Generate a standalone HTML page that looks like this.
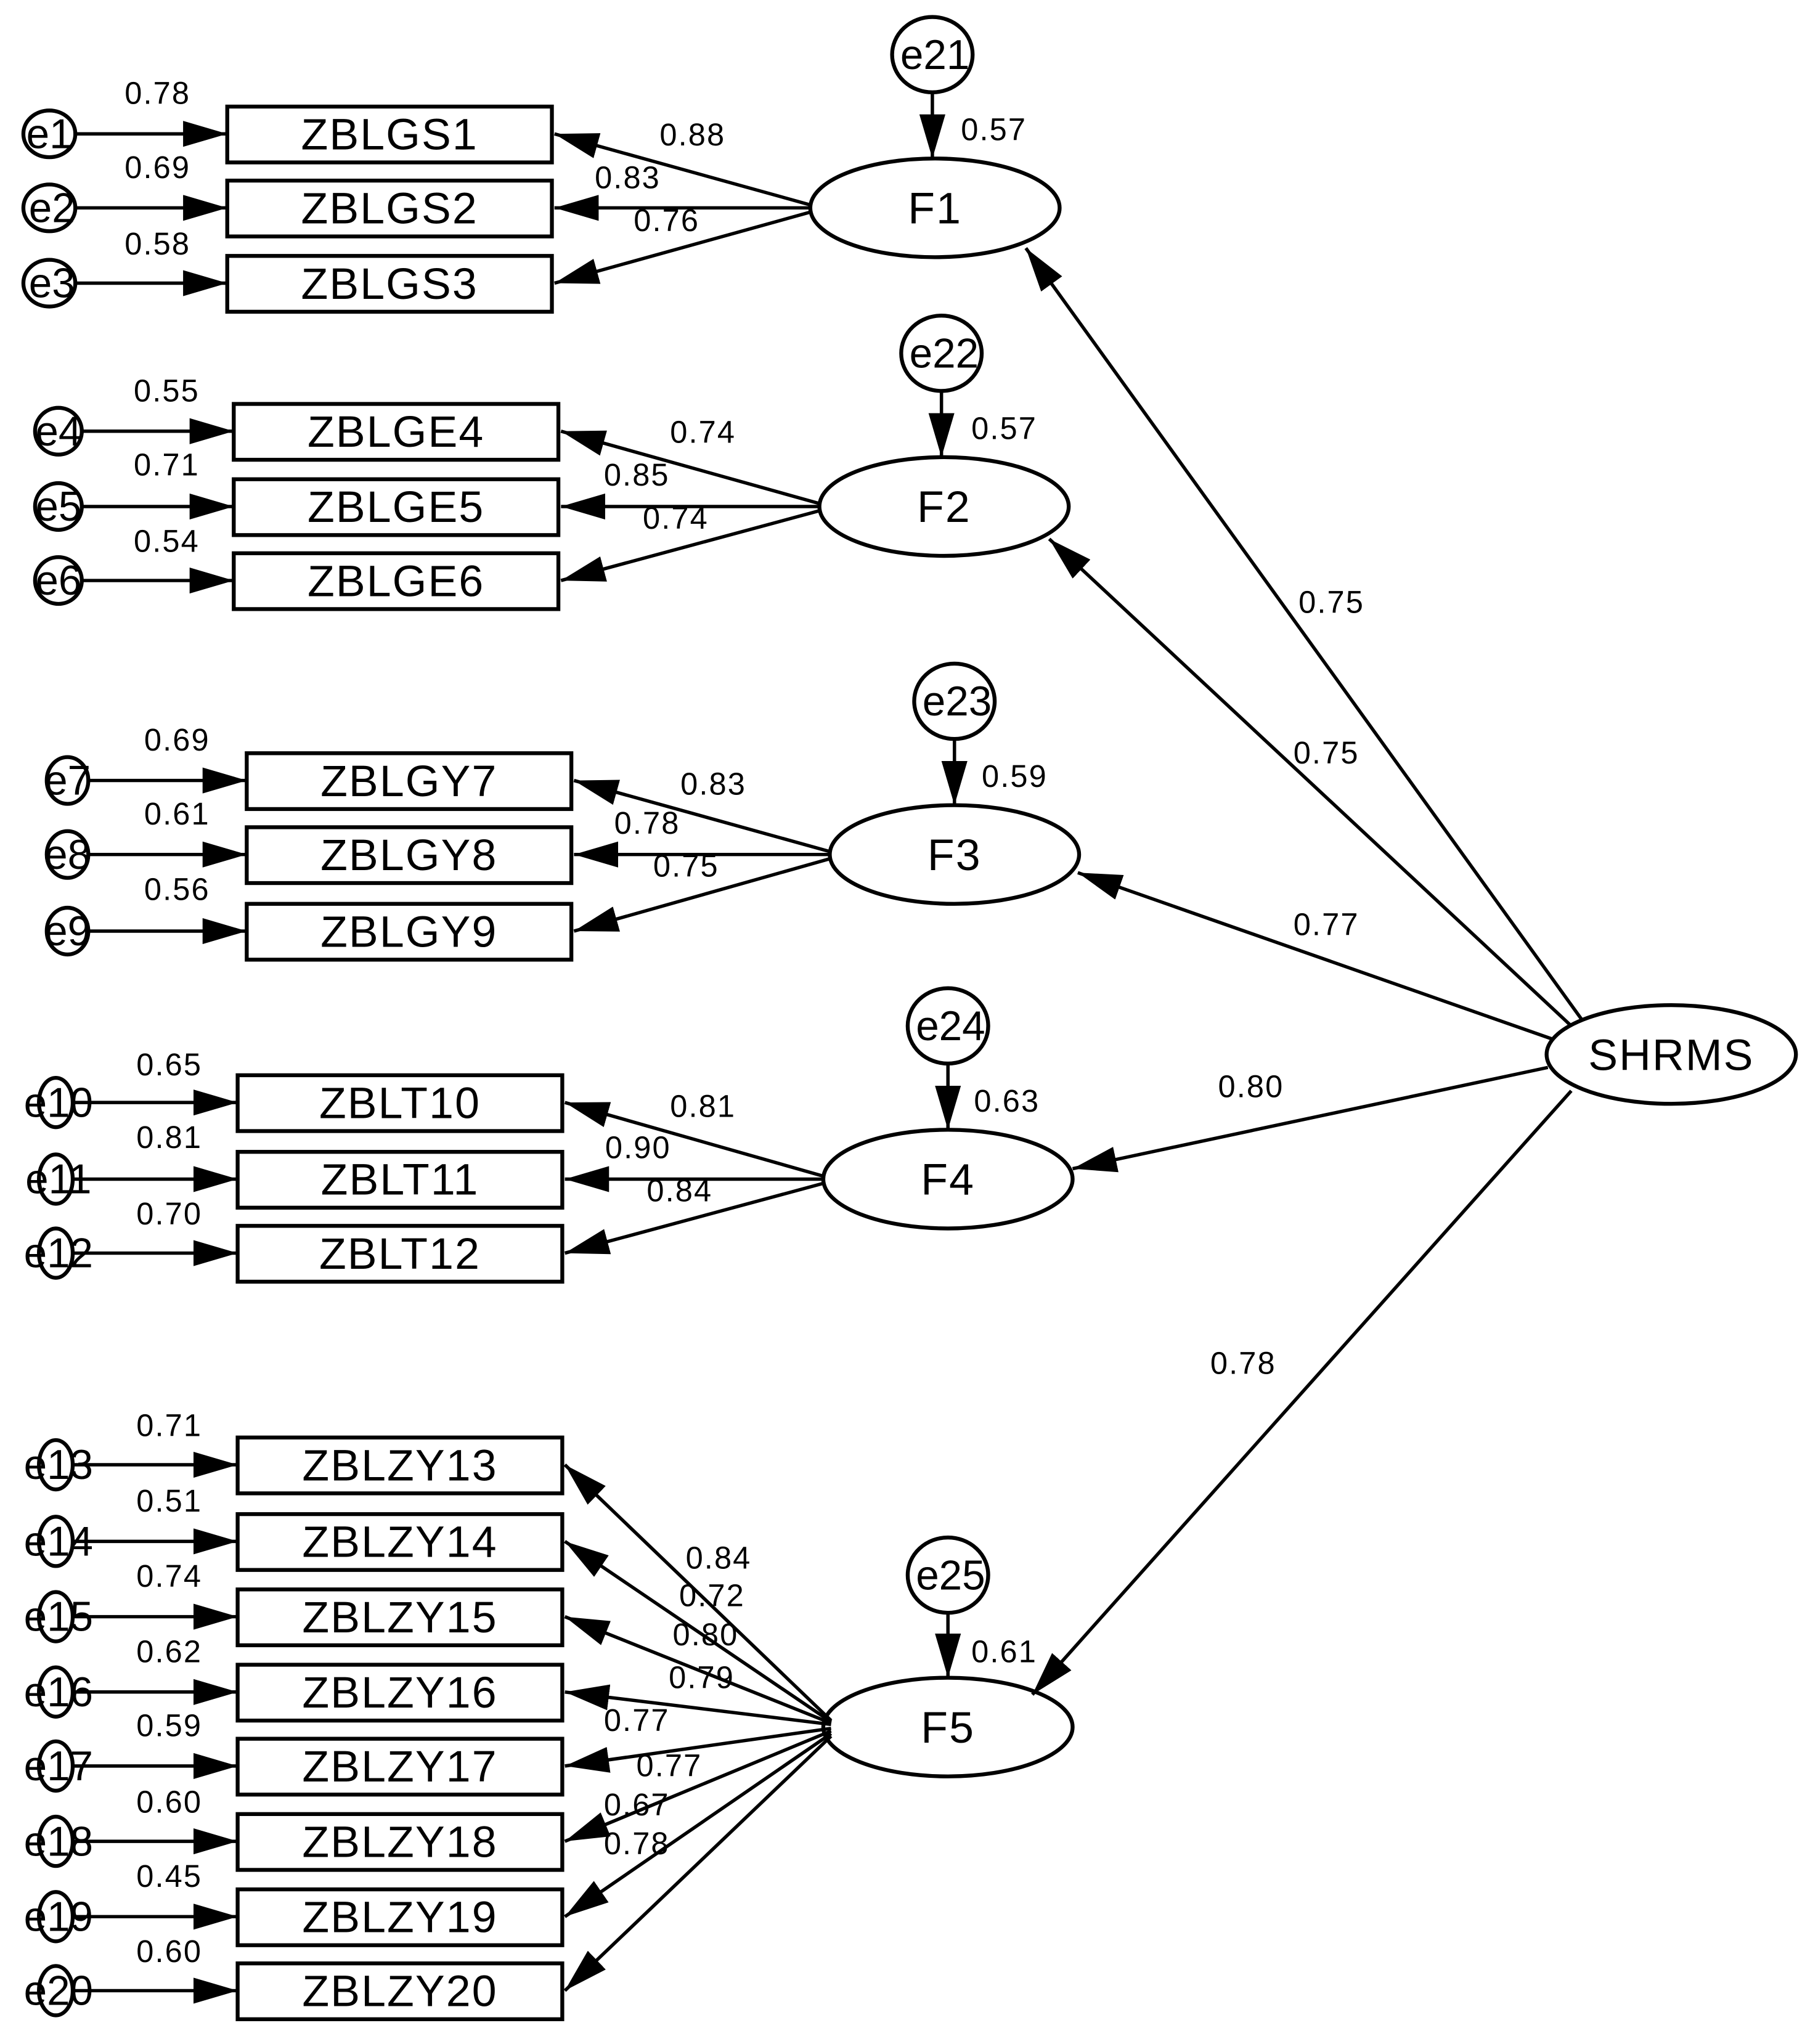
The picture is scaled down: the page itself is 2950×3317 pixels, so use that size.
<!DOCTYPE html>
<html><head><meta charset="utf-8"><style>
html,body{margin:0;padding:0;background:#fff;}
svg{display:block;}
text{font-family:"Liberation Sans",sans-serif;fill:#000;}
.b{font-size:34px;text-anchor:middle;letter-spacing:1px;}
.n{font-size:24px;letter-spacing:1px;}
.e{font-size:32px;text-anchor:middle;}
</style></head><body>
<svg width="2950" height="3317" viewBox="0 0 1400 1574" xmlns="http://www.w3.org/2000/svg">
<defs>
<marker id="a" viewBox="0 0 34 20" refX="34" refY="10" markerWidth="34" markerHeight="20" markerUnits="userSpaceOnUse" orient="auto">
<path d="M0,0 L34,10 L0,20 z" fill="#000"/></marker>
</defs>
<g stroke="#000" stroke-width="3" fill="none">
<rect x="175" y="82" width="250" height="43"/><rect x="175" y="139" width="250" height="43"/><rect x="175" y="197" width="250" height="43"/>
<ellipse cx="720" cy="160" rx="96" ry="38"/><ellipse cx="718" cy="42" rx="31" ry="29"/>
<ellipse cx="38" cy="103" rx="20" ry="18"/><ellipse cx="38" cy="160" rx="20" ry="18"/><ellipse cx="38" cy="218" rx="20" ry="18"/>
<rect x="180" y="311" width="250" height="43"/><rect x="180" y="369" width="250" height="43"/><rect x="180" y="426" width="250" height="43"/>
<ellipse cx="727" cy="390" rx="96" ry="38"/><ellipse cx="725" cy="272" rx="31" ry="29"/>
<ellipse cx="45" cy="332" rx="18" ry="18"/><ellipse cx="45" cy="390" rx="18" ry="18"/><ellipse cx="45" cy="447" rx="18" ry="18"/>
<rect x="190" y="580" width="250" height="43"/><rect x="190" y="637" width="250" height="43"/><rect x="190" y="696" width="250" height="43"/>
<ellipse cx="735" cy="658" rx="96" ry="38"/><ellipse cx="735" cy="540" rx="31" ry="29"/>
<ellipse cx="52" cy="601" rx="16" ry="18"/><ellipse cx="52" cy="658" rx="16" ry="18"/><ellipse cx="52" cy="717" rx="16" ry="18"/>
<rect x="183" y="828" width="250" height="43"/><rect x="183" y="887" width="250" height="43"/><rect x="183" y="944" width="250" height="43"/>
<ellipse cx="730" cy="908" rx="96" ry="38"/><ellipse cx="730" cy="790" rx="31" ry="29"/>
<ellipse cx="43" cy="849" rx="13" ry="19"/><ellipse cx="43" cy="908" rx="13" ry="19"/><ellipse cx="43" cy="965" rx="13" ry="19"/>
<rect x="183" y="1107" width="250" height="43"/><rect x="183" y="1166" width="250" height="43"/><rect x="183" y="1224" width="250" height="43"/><rect x="183" y="1282" width="250" height="43"/>
<rect x="183" y="1339" width="250" height="43"/><rect x="183" y="1397" width="250" height="43"/><rect x="183" y="1455" width="250" height="43"/><rect x="183" y="1512" width="250" height="43"/>
<ellipse cx="730" cy="1330" rx="96" ry="38"/><ellipse cx="730" cy="1213" rx="31" ry="29"/>
<ellipse cx="43" cy="1128" rx="13" ry="19"/><ellipse cx="43" cy="1187" rx="13" ry="19"/><ellipse cx="43" cy="1245" rx="13" ry="19"/><ellipse cx="43" cy="1303" rx="13" ry="19"/>
<ellipse cx="43" cy="1360" rx="13" ry="19"/><ellipse cx="43" cy="1418" rx="13" ry="19"/><ellipse cx="43" cy="1476" rx="13" ry="19"/><ellipse cx="43" cy="1533" rx="13" ry="19"/>
<ellipse cx="1287" cy="812" rx="96" ry="38"/>
</g>
<g stroke="#000" stroke-width="2.6" marker-end="url(#a)">
<line x1="58" y1="103" x2="175" y2="103"/><line x1="58" y1="160" x2="175" y2="160"/><line x1="58" y1="218" x2="175" y2="218"/>
<line x1="625" y1="158" x2="427" y2="103"/><line x1="625" y1="160" x2="427" y2="160"/><line x1="625" y1="163" x2="427" y2="218"/>
<line x1="718" y1="71" x2="718" y2="122"/>
<line x1="63" y1="332" x2="180" y2="332"/><line x1="63" y1="390" x2="180" y2="390"/><line x1="63" y1="447" x2="180" y2="447"/>
<line x1="632" y1="388" x2="432" y2="332"/><line x1="632" y1="390" x2="432" y2="390"/><line x1="632" y1="393" x2="432" y2="447"/>
<line x1="725" y1="301" x2="725" y2="352"/>
<line x1="68" y1="601" x2="190" y2="601"/><line x1="68" y1="658" x2="190" y2="658"/><line x1="68" y1="717" x2="190" y2="717"/>
<line x1="640" y1="656" x2="442" y2="601"/><line x1="640" y1="658" x2="442" y2="658"/><line x1="640" y1="661" x2="442" y2="717"/>
<line x1="735" y1="569" x2="735" y2="620"/>
<line x1="56" y1="849" x2="183" y2="849"/><line x1="56" y1="908" x2="183" y2="908"/><line x1="56" y1="965" x2="183" y2="965"/>
<line x1="635" y1="906" x2="435" y2="849"/><line x1="635" y1="908" x2="435" y2="908"/><line x1="635" y1="911" x2="435" y2="965"/>
<line x1="730" y1="819" x2="730" y2="870"/>
<line x1="56" y1="1128" x2="183" y2="1128"/><line x1="56" y1="1187" x2="183" y2="1187"/><line x1="56" y1="1245" x2="183" y2="1245"/><line x1="56" y1="1303" x2="183" y2="1303"/>
<line x1="56" y1="1360" x2="183" y2="1360"/><line x1="56" y1="1418" x2="183" y2="1418"/><line x1="56" y1="1476" x2="183" y2="1476"/><line x1="56" y1="1533" x2="183" y2="1533"/>
<line x1="640" y1="1325" x2="435" y2="1128"/><line x1="640" y1="1326" x2="435" y2="1187"/><line x1="640" y1="1327" x2="435" y2="1245"/><line x1="640" y1="1328" x2="435" y2="1303"/>
<line x1="640" y1="1331" x2="435" y2="1360"/><line x1="640" y1="1333" x2="435" y2="1418"/><line x1="640" y1="1335" x2="435" y2="1476"/><line x1="640" y1="1337" x2="435" y2="1533"/>
<line x1="730" y1="1242" x2="730" y2="1292"/>
<line x1="1218" y1="785" x2="790" y2="191"/>
<line x1="1210" y1="790" x2="808" y2="415"/>
<line x1="1195" y1="800" x2="830" y2="672"/>
<line x1="1192" y1="822" x2="826" y2="900"/>
<line x1="1210" y1="840" x2="795" y2="1305"/>
</g>
<g class="b">
<text x="300" y="115">ZBLGS1</text><text x="300" y="172">ZBLGS2</text><text x="300" y="230">ZBLGS3</text>
<text x="305" y="344">ZBLGE4</text><text x="305" y="402">ZBLGE5</text><text x="305" y="459">ZBLGE6</text>
<text x="315" y="613">ZBLGY7</text><text x="315" y="670">ZBLGY8</text><text x="315" y="729">ZBLGY9</text>
<text x="308" y="861">ZBLT10</text><text x="308" y="920">ZBLT11</text><text x="308" y="977">ZBLT12</text>
<text x="308" y="1140">ZBLZY13</text><text x="308" y="1199">ZBLZY14</text><text x="308" y="1257">ZBLZY15</text><text x="308" y="1315">ZBLZY16</text>
<text x="308" y="1372">ZBLZY17</text><text x="308" y="1430">ZBLZY18</text><text x="308" y="1488">ZBLZY19</text><text x="308" y="1545">ZBLZY20</text>
<text x="720" y="172">F1</text><text x="727" y="402">F2</text><text x="735" y="670">F3</text><text x="730" y="920">F4</text><text x="730" y="1342">F5</text>
<text x="1287" y="824">SHRMS</text>
</g>
<g class="e">
<text x="720" y="53">e21</text><text x="727" y="283">e22</text><text x="737" y="551">e23</text><text x="732" y="801">e24</text><text x="732" y="1224">e25</text>
<text x="38" y="114">e1</text><text x="40" y="171">e2</text><text x="40" y="229">e3</text>
<text x="45" y="343">e4</text><text x="45" y="401">e5</text><text x="45" y="458">e6</text>
<text x="52" y="612">e7</text><text x="52" y="669">e8</text><text x="52" y="728">e9</text>
<text x="45" y="860">e10</text><text x="45" y="919">e11</text><text x="45" y="976">e12</text>
<text x="45" y="1139">e13</text><text x="45" y="1198">e14</text><text x="45" y="1256">e15</text><text x="45" y="1314">e16</text>
<text x="45" y="1371">e17</text><text x="45" y="1429">e18</text><text x="45" y="1487">e19</text><text x="45" y="1544">e20</text>
</g>
<g class="n">
<text x="96" y="80">0.78</text><text x="96" y="137">0.69</text><text x="96" y="196">0.58</text>
<text x="508" y="112">0.88</text><text x="458" y="145">0.83</text><text x="488" y="178">0.76</text><text x="740" y="108">0.57</text>
<text x="103" y="309">0.55</text><text x="103" y="366">0.71</text><text x="103" y="425">0.54</text>
<text x="516" y="341">0.74</text><text x="465" y="374">0.85</text><text x="495" y="407">0.74</text><text x="748" y="338">0.57</text>
<text x="111" y="578">0.69</text><text x="111" y="635">0.61</text><text x="111" y="693">0.56</text>
<text x="524" y="612">0.83</text><text x="473" y="642">0.78</text><text x="503" y="675">0.75</text><text x="756" y="606">0.59</text>
<text x="105" y="828">0.65</text><text x="105" y="884">0.81</text><text x="105" y="943">0.70</text>
<text x="516" y="860">0.81</text><text x="466" y="892">0.90</text><text x="498" y="925">0.84</text><text x="750" y="856">0.63</text>
<text x="105" y="1106">0.71</text><text x="105" y="1164">0.51</text><text x="105" y="1222">0.74</text><text x="105" y="1280">0.62</text>
<text x="105" y="1337">0.59</text><text x="105" y="1396">0.60</text><text x="105" y="1453">0.45</text><text x="105" y="1511">0.60</text>
<text x="528" y="1208">0.84</text><text x="523" y="1237">0.72</text><text x="518" y="1267">0.80</text><text x="515" y="1300">0.79</text>
<text x="465" y="1333">0.77</text><text x="490" y="1368">0.77</text><text x="465" y="1398">0.67</text><text x="465" y="1428">0.78</text>
<text x="748" y="1280">0.61</text>
<text x="1000" y="472">0.75</text><text x="996" y="588">0.75</text><text x="996" y="720">0.77</text><text x="938" y="845">0.80</text><text x="932" y="1058">0.78</text>
</g>
</svg>
</body></html>
